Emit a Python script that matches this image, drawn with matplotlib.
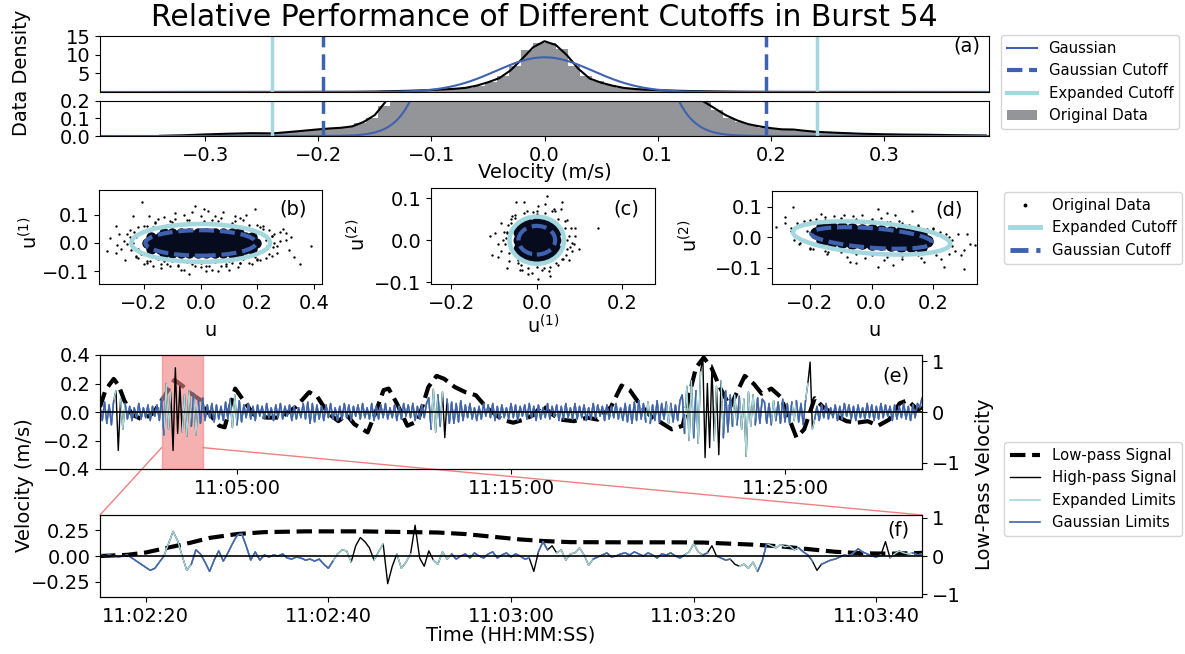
import numpy as np
import matplotlib
matplotlib.use("Agg")
import matplotlib.pyplot as plt
from matplotlib.patches import Ellipse, Patch, ConnectionPatch
from matplotlib.lines import Line2D
from matplotlib.ticker import FuncFormatter

plt.rcParams['font.family'] = ['DejaVu Sans']
plt.rcParams['mathtext.default'] = 'regular'

# ======================= DATA =======================
# ---- (a) velocity distribution ----
hist_bin_start = -0.336
hist_bin_width = 0.0105
hist_density = [0.003, 0.005, 0.01, 0.01, 0.012, 0.015, 0.015, 0.017, 0.012, 0.02,
                0.024, 0.028, 0.035, 0.04, 0.045, 0.05, 0.072, 0.105, 0.17, 0.24,
                0.31, 0.40, 0.52, 0.66, 0.85, 1.15, 1.7, 2.6, 4.4, 6.9,
                11.3, 13.0, 13.2, 11.6, 7.0, 4.2, 2.9, 1.8, 1.15, 0.85,
                0.62, 0.5, 0.4, 0.32, 0.24, 0.2, 0.15, 0.105, 0.08, 0.06,
                0.045, 0.04, 0.035, 0.03, 0.025, 0.02, 0.018, 0.014, 0.012, 0.01,
                0.009, 0.008, 0.008, 0.007, 0.006, 0.005, 0.004, 0.003, 0.003]
kde_u = [-0.34, -0.32, -0.30, -0.28, -0.26, -0.24, -0.22, -0.20, -0.19, -0.18, -0.17, -0.16,
         -0.15, -0.14, -0.13, -0.12, -0.11, -0.10, -0.09, -0.08, -0.07, -0.06, -0.05, -0.04,
         -0.03, -0.02, -0.01, 0.0, 0.01, 0.02, 0.03, 0.04, 0.05, 0.06, 0.07, 0.08, 0.09, 0.10,
         0.11, 0.12, 0.13, 0.14, 0.15, 0.16, 0.17, 0.18, 0.19, 0.20, 0.21, 0.22, 0.23, 0.24,
         0.26, 0.28, 0.30, 0.32, 0.34, 0.36, 0.39]
kde_density = [0.001, 0.004, 0.009, 0.013, 0.016, 0.015, 0.026, 0.038, 0.043, 0.047, 0.055, 0.08,
               0.12, 0.20, 0.26, 0.33, 0.42, 0.53, 0.68, 0.85, 1.1, 1.7, 2.6, 3.7,
               5.8, 8.8, 12.0, 13.6, 12.6, 9.8, 6.2, 3.6, 2.5, 1.7, 1.1, 0.8, 0.62, 0.5,
               0.4, 0.32, 0.25, 0.2, 0.16, 0.12, 0.09, 0.068, 0.055, 0.045, 0.038, 0.037, 0.03, 0.024,
               0.018, 0.013, 0.01, 0.008, 0.007, 0.005, 0.003]
gauss_mean = 0.0
gauss_sigma = 0.0429
gauss_cutoff = 0.196
expanded_cutoff = 0.241

# ---- (b) u vs u(1) ----
b_u = [-0.206, -0.32, -0.294, -0.30, -0.266, -0.24, -0.184, -0.09, 0.01, 0.026,
       0.19, 0.12, -0.14, -0.11, -0.04, 0.06, 0.11, 0.21, 0.28, 0.30,
       0.31, 0.35, 0.39, 0.25, 0.27, -0.07, -0.19, -0.22, -0.25, -0.27,
       -0.16, 0.07, 0.15, 0.22, 0.09, 0.02, -0.03, -0.13, 0.17, 0.23,
       -0.23, -0.22, -0.20, -0.21, -0.17, -0.15, -0.12, -0.10, -0.07, -0.05,
       -0.02, 0.0, 0.03, 0.05, 0.08, 0.10, 0.13, 0.15, 0.18, 0.19,
       0.21, 0.22, 0.23, 0.235, -0.24, -0.19, -0.11, -0.04, 0.04, 0.12,
       0.20, -0.18, -0.08, 0.0, 0.07, 0.14, 0.20, 0.26, 0.27, -0.26,
       -0.28, 0.24, -0.23, 0.30, -0.12, 0.05, -0.06, 0.10, -0.15, 0.16,
       0.33, -0.02, 0.08, -0.17, 0.13, 0.02, -0.09, 0.25, 0.29, -0.30,
       -0.25, -0.245, -0.235, -0.23, -0.20, -0.19, -0.16, -0.14, -0.10, -0.08,
       -0.05, -0.02, 0.01, 0.03, 0.06, 0.09, 0.11, 0.14, 0.17, 0.20,
       0.22, 0.24, 0.25, 0.255, 0.26, -0.26, -0.22, 0.21, -0.13, 0.14,
       -0.06, 0.04, 0.18, -0.20, 0.28, -0.29, 0.32, -0.33, 0.0, -0.03]
b_u1 = [0.144, 0.018, -0.006, -0.035, -0.059, 0.094, 0.094, 0.085, 0.121, 0.112,
        0.121, 0.094, -0.088, -0.082, -0.108, -0.10, -0.07, -0.059, 0.006, 0.035,
        -0.024, -0.076, -0.012, 0.024, -0.035, -0.094, -0.07, -0.053, 0.047, 0.006,
        0.073, 0.088, 0.08, 0.059, -0.082, -0.08, -0.076, -0.065, -0.07, -0.053,
        0.02, -0.02, 0.04, -0.04, 0.055, -0.058, 0.062, -0.063, 0.068, -0.066,
        0.07, -0.07, 0.069, -0.068, 0.066, -0.064, 0.06, -0.057, 0.05, -0.048,
        0.035, -0.03, 0.01, -0.01, 0.0, 0.06, 0.078, 0.082, 0.08, 0.076,
        0.062, -0.062, -0.08, -0.085, -0.082, -0.072, -0.06, 0.03, -0.01, 0.03,
        -0.02, 0.045, -0.045, 0.01, -0.075, 0.095, 0.10, -0.095, 0.085, 0.10,
        -0.05, 0.13, 0.11, -0.08, -0.085, -0.10, 0.105, -0.045, 0.05, 0.06,
        0.02, -0.025, 0.04, -0.05, 0.06, -0.065, 0.07, -0.075, 0.075, -0.078,
        0.08, -0.082, 0.078, -0.08, 0.077, -0.075, 0.072, -0.07, 0.064, -0.058,
        0.05, -0.04, 0.025, -0.015, 0.0, -0.005, 0.055, 0.055, 0.09, 0.088,
        -0.095, -0.095, -0.075, -0.075, 0.04, 0.03, 0.02, -0.03, 0.095, 0.11]
b_core_u = [-0.19, -0.16, -0.13, -0.10, -0.07, -0.04, -0.01, 0.02, 0.05, 0.08, 0.11, 0.14, 0.17, 0.195,
            -0.175, -0.145, -0.115, -0.085, -0.055, -0.025, 0.005, 0.035, 0.065, 0.095, 0.125, 0.155, 0.18,
            -0.175, -0.145, -0.115, -0.085, -0.055, -0.025, 0.005, 0.035, 0.065, 0.095, 0.125, 0.155, 0.18,
            -0.13, -0.10, -0.07, -0.04, -0.01, 0.02, 0.05, 0.08, 0.11, 0.135,
            -0.13, -0.10, -0.07, -0.04, -0.01, 0.02, 0.05, 0.08, 0.11, 0.135]
b_core_u1 = [0.0] * 14 + [0.02] * 13 + [-0.02] * 13 + [0.036] * 10 + [-0.036] * 10
b_expanded_axes = [0.245, 0.067]
b_gauss_axes = [0.195, 0.045]

# ---- (c) u(1) vs u(2) ----
c_u1 = [-0.048, 0.023, 0.003, 0.143, -0.104, -0.091, -0.071, 0.003, -0.011, 0.029,
        0.083, 0.09, -0.084, 0.056, -0.024, -0.057, 0.07, 0.076, -0.037, 0.016,
        -0.071, 0.083, 0.043, -0.044, -0.098,
        -0.07, 0.07, -0.075, 0.075, -0.068, 0.068, -0.06, 0.062, -0.05, 0.05,
        -0.03, 0.03, -0.01, 0.012, -0.08, 0.08, -0.065, 0.066, -0.04, 0.04,
        -0.085, 0.088, 0.0, -0.02, 0.02,
        0.07, -0.072, 0.065, -0.066, 0.05, -0.05, 0.045, -0.045, 0.02, -0.02,
        0.0, 0.0, 0.078, -0.078, 0.06, -0.06, 0.035, -0.035, 0.09, -0.09,
        0.03, -0.03, 0.10, -0.11, 0.06]
c_u2 = [0.09, 0.104, 0.081, 0.029, -0.034, -0.01, -0.066, -0.093, -0.077, -0.074,
        -0.006, 0.009, 0.041, 0.073, 0.069, 0.057, 0.049, -0.046, -0.058, -0.066,
        0.017, -0.026, 0.069, -0.046, 0.017,
        0.02, -0.02, -0.01, 0.01, 0.035, -0.035, 0.05, -0.045, 0.06, -0.058,
        0.065, -0.063, 0.068, -0.07, 0.0, 0.03, -0.05, 0.045, -0.07, 0.075,
        -0.025, -0.01, 0.07, -0.08, 0.085,
        0.0, 0.005, 0.03, -0.03, 0.05, 0.052, -0.055, -0.055, 0.065, -0.066,
        0.062, -0.064, -0.015, 0.02, -0.045, 0.04, 0.07, -0.07, 0.03, -0.04,
        -0.085, 0.09, -0.02, 0.01, 0.09]
c_core_u1 = [0.0, 0.02, -0.02, 0.04, -0.04, 0.0, 0.0, 0.0, 0.0, 0.02, -0.02, 0.02, -0.02,
             0.04, -0.04, 0.04, -0.04, 0.02, -0.02, 0.02, -0.02, 0.033, -0.033, 0.033, -0.033]
c_core_u2 = [0.0, 0.0, 0.0, 0.0, 0.0, 0.02, -0.02, 0.038, -0.038, 0.02, 0.02, -0.02, -0.02,
             0.02, 0.02, -0.02, -0.02, 0.036, 0.036, -0.036, -0.036, 0.03, 0.03, -0.03, -0.03]
c_expanded_axes = [0.064, 0.056]
c_gauss_axes = [0.043, 0.034]

# ---- (d) u vs u(2) ----
d_u = [-0.255, -0.31, -0.28, -0.162, 0.022, 0.077, -0.089, 0.133, 0.28, 0.30,
       0.234, 0.068, 0.022, -0.07, -0.144, -0.2, -0.236, 0.17, 0.225, 0.317,
       0.336, 0.30,
       -0.24, -0.22, -0.2, -0.18, -0.15, -0.12, -0.1, -0.06, -0.03, 0.0,
       0.03, 0.06, 0.09, 0.12, 0.15, 0.18, 0.2, 0.22, 0.24, 0.26,
       -0.23, -0.19, -0.14, -0.08, -0.02, 0.04, 0.1, 0.16, 0.21, 0.25,
       -0.26, -0.21, 0.27, 0.13, -0.05, 0.05,
       -0.26, -0.25, 0.26, 0.25, -0.2, -0.15, -0.1, -0.05, 0.0, 0.05,
       0.1, 0.15, 0.2, -0.2, -0.15, -0.1, -0.05, 0.0, 0.05, 0.1,
       0.15, 0.2, -0.28, 0.29, 0.31]
d_u2 = [0.099, 0.033, 0.066, 0.077, 0.093, 0.071, 0.071, 0.033, 0.011, -0.044,
        -0.099, -0.093, -0.099, -0.082, -0.055, -0.038, -0.022, -0.082, -0.071, -0.022,
        -0.027, -0.105,
        0.045, 0.052, 0.055, 0.06, 0.065, 0.07, 0.062, 0.068, 0.072, 0.058,
        0.064, 0.05, 0.052, 0.04, 0.035, 0.028, 0.03, 0.015, 0.01, -0.01,
        -0.02, -0.04, -0.05, -0.065, -0.07, -0.075, -0.072, -0.07, -0.06, -0.055,
        0.03, 0.02, -0.045, 0.085, -0.085, 0.08,
        0.02, -0.01, -0.03, 0.0, 0.05, 0.055, 0.06, 0.058, 0.055, 0.05,
        0.045, 0.04, 0.025, -0.035, -0.045, -0.05, -0.056, -0.06, -0.065, -0.063,
        -0.06, -0.05, 0.045, -0.06, 0.01]
d_core_u = [-0.18, -0.15, -0.12, -0.09, -0.06, -0.03, 0.0, 0.03, 0.06, 0.09, 0.12, 0.15, 0.18,
            -0.16, -0.128, -0.096, -0.064, -0.032, 0.0, 0.032, 0.064, 0.096, 0.128, 0.16,
            -0.16, -0.128, -0.096, -0.064, -0.032, 0.0, 0.032, 0.064, 0.096, 0.128, 0.16]
d_core_u2 = [0.013, 0.010, 0.008, 0.006, 0.004, 0.002, 0.0, -0.002, -0.004, -0.006, -0.008, -0.010, -0.013,
             0.033, 0.031, 0.029, 0.026, 0.024, 0.022, 0.020, 0.018, 0.015, 0.013, 0.011,
             -0.011, -0.013, -0.015, -0.018, -0.020, -0.022, -0.024, -0.026, -0.029, -0.031, -0.033]
d_expanded_axes = [0.255, 0.051]
d_gauss_axes = [0.196, 0.032]
d_ellipse_center = [0.0, -0.003]
d_ellipse_angle = -4.5

# ---- (e) whole burst: seconds after 11:00:00 ----
e_step_s = 5
e_hp_cm = [4, -6, 7, -8, 5, -9, 8, 15, -27, 9, -12, 6,
           -5, 4, -6, 3, -4, 6, -5, 3, -4, 5, -6, 4, -3, 5, -6,
           10, -16, 20, -12, 14, -27, 31, -15, 18, -14, 12, -17, 15, -10, 13, -16, 9, -8, 10,
           -6, 5, -4, 6, -7, 5, -5, 4, -6, 7, -5,
           9, -11, 12, -9, 8, -7,
           5, -4, 6, -5, 4, -6, 5, -3, 4, -5, 6, -4, 3, -6, 5, -4, 6, -5, 4, -3, 5, -6, 4, -5, 3, -4, 6, -5,
           7, -8, 6, -7, 5,
           -5, 4, -6, 5, -4, 6, -5, 3, -6, 4, -5, 6, -4, 5, -6, 4, -3, 5, -5, 6, -4, 3, -5, 6,
           -6, 4, -5, 5, -4, 6, -5, 3, -4, 5, -6, 4, -5, 6, -3, 5, -4, 6, -6, 4, -5, 5, -4, 6,
           10, -12, 16, -14, 12, -10, 14, -18, 9, -8,
           7, -8, 6, -7, 8, -6,
           5, -4, 6, -5, 3, -6, 4, -5, 6, -3, 5, -4, 6, -6, 4, -5, 5, -4, 3, -5, 6, -4, 5, -6,
           4, -3, 5, -5, 6, -4, 4, -6, 5, -5, 3, -4, 6, -5, 4, -3, 5, -6, 4, -5, 6, -4, 3, -5,
           6, -5, 4, -4, 5, -6, 3, -5, 6, -4, 5, -3, 4, -6, 5, -5, 4, -4, 6, -5, 3, -6,
           6, -7, 5, -8, 7, -6, 8, -5, 6, -7, 7, -8, 5, -6, 8, -7, 6, -5, 7, -8, 6, -7, 5, -6, 8,
           12, -15, 18, -20, 22, -18, 15, -22, 28, 39, -32, 20, -25, 33, -20, 18, -30, 22, -18, 15, -14, 12,
           -10, 12, -9, 11, -12, 9, -31, 14, -10, 12, -9, 10, -8, 9,
           7, -8, 6, -9, 8, -6, 7, -8, 9, -7, 6, -8, 7, -6, 8, -7, 6, -9, 8,
           20, 35, -12,
           -5, 4, -6, 5, -4, 6, -5, 3, -4, 5, -6, 4, -5, 6, -3, 5, -5, 4, -6, 5, -4, 3, -5, 6,
           -4, 5, -6, 4, -5, 6, -4, 5, -3, 4, -6, 5, -5, 4, -4, 6, -5, 4, -6, 5, -4, 6, 3, 10]
# 0 = inside Gaussian limits, 1 = inside expanded limits, 2 = outside
e_class = ("000000012110" + "0" * 15 + "0011022120101001000" + "0" * 11 + "011000"
           + "0" * 28 + "0" * 5 + "0" * 48 + "0011001200" + "0" * 6 + "0" * 70
           + "0000000000100000000100000" + "0011100112212201210000" + "01001011010000"
           + "0000100000000100000" + "121" + "0" * 48)
e_lp_t = [0, 12, 30, 41, 53, 70, 93, 117, 140, 163, 180, 198, 221, 238, 261, 273, 290, 296, 314, 337,
          366, 395, 429, 458, 476, 499, 522, 540, 557, 586, 603, 621, 632, 650, 673, 696, 719, 737, 754, 777,
          800, 823, 847, 881, 905, 928, 951, 968, 986, 1009, 1038, 1067, 1090, 1119, 1142, 1160, 1183, 1206,
          1229, 1252, 1276, 1293, 1305, 1322, 1339, 1357, 1380, 1397, 1412, 1432, 1449, 1470, 1490, 1507,
          1525, 1542, 1565, 1583, 1612, 1635, 1658, 1681, 1704, 1728, 1751, 1768, 1791, 1800]
e_lp_v = [0.1, 0.43, 0.65, 0.52, 0.23, -0.05, -0.15, -0.02, 0.3, 0.63, 0.52, 0.37, 0.23, -0.02, -0.27,
          -0.3, 0.27, 0.46, 0.23, -0.05, -0.11, -0.11, 0.1, 0.39, 0.3, -0.02, -0.18, -0.05, -0.24, -0.4,
          -0.02, 0.43, 0.46, 0.17, -0.27, -0.18, 0.49, 0.71, 0.65, 0.49, 0.39, 0.33, 0.08, -0.15, -0.21,
          -0.15, -0.05, 0.14, -0.02, -0.15, -0.18, -0.11, -0.15, 0.1, 0.52, 0.43, 0.14, -0.08, -0.21, -0.34,
          -0.27, 0.43, 0.87, 1.07, 0.87, 0.49, 0.1, 0.43, 0.71, 0.55, 0.36, 0.46, 0.3, -0.08, -0.5,
          -0.34, 0.27, 0.1, -0.08, -0.18, -0.21, -0.18, -0.27, -0.15, 0.17, 0.23, 0.04, 0.1]
zoom_start_s = 135
zoom_end_s = 225

# ---- (f) zoomed window, 0.5 s samples from 11:02:15 ----
f_step_s = 0.5
f_hp_cm = [1, 0, 1, 0, -1, 0, 1, -2, -5, -8, -11, -14, -12, -6, 0, 12, 24, 15, 0, -14,
           -8, 6, 2, -6, -15, -4, 5, -5, 3, 12, 20, 22, 10, -4, 4, -4, 1, -1, 1, 0,
           2, -2, -3, -1, -2, -4, -3, -5, -3, -8, -12, -5, 2, 6, 5, -6, 10, 18, 14, 8,
           -4, 4, 12, -27, -10, 2, -12, -6, 2, 30, -2, -10, 5, -4, -8, 4, -3, 2, -3, 0,
           2, -2, 3, 0, -2, 2, 4, -2, 1, 3, -1, 2, 0, -3, -2, -15, 4, 14, 6, 10,
           3, 6, -4, 2, 3, 8, 1, -9, -3, -1, 1, 3, -1, 0, 2, 3, 1, 4, 2, 0,
           3, 1, -2, 2, 1, 3, 0, -2, 1, 4, 12, 4, 1, 3, 10, 0, -2, -4, -3, -8,
           -10, -8, -12, -6, -15, -5, 12, 10, 8, 11, 9, 10, 6, 8, 4, 1, -5, -14, -8, -6,
           -4, -3, -1, 1, 0, 3, 7, 4, 2, 0, -1, 1, 14, -2, 2, 5, 3, 2, 3, 1,
           2]
f_class = ("00000000000000011111" "00000000000000000000" "00000000000011112222"
           "11122111122221111000" "00000000000000020002" "11111111000000000000"
           "00000000011100200002" "11110001111110000200" "00000000000021111100" "0")
f_lp_t = [0, 3, 5, 7.5, 10, 12, 15, 18, 22.5, 28.5, 34, 37, 40, 43, 46, 48.5, 51.5, 57.5, 63, 66,
          69, 72, 75, 77.5, 80.5, 83.5, 86.5, 90]
f_lp_v = [0.0, 0.03, 0.09, 0.22, 0.35, 0.47, 0.57, 0.62, 0.64, 0.64, 0.62, 0.61, 0.57, 0.50, 0.43,
          0.39, 0.36, 0.355, 0.355, 0.35, 0.32, 0.29, 0.24, 0.18, 0.11, 0.07, 0.06, 0.08]

# ======================= STYLE =======================
BLUE = '#3f62b0'
CYAN = '#a3d8de'
GRAY = '#939598'
NAVY = '#070b1e'
SPAN = '#f08080'
FS_TICK = 14
FS_LAB = 14
FS_LEG = 10.7

W, H = 1185, 654
fig = plt.figure(figsize=(W / 100, H / 100), dpi=100)


def add_ax(x0, y0, x1, y1):
    return fig.add_axes([x0 / W, 1 - y1 / H, (x1 - x0) / W, (y1 - y0) / H])


def ftxt(x, y, s, **kw):
    kw.setdefault('ha', 'center')
    kw.setdefault('va', 'center')
    kw.setdefault('fontsize', FS_LAB)
    fig.text(x / W, 1 - y / H, s, **kw)


def hms(x, pos=None):
    s = int(round(x))
    return "%02d:%02d:%02d" % (11 + s // 3600, (s % 3600) // 60, s % 60)


# ======================= (a) =======================
axA1 = add_ax(100, 36, 989, 92)
axA2 = add_ax(100, 101, 989, 136)
edges = hist_bin_start + hist_bin_width * np.arange(len(hist_density) + 1)
xg = np.linspace(-0.393, 0.393, 600)
gauss = np.exp(-0.5 * ((xg - gauss_mean) / gauss_sigma) ** 2) / (gauss_sigma * np.sqrt(2 * np.pi))
for ax in (axA1, axA2):
    ax.bar(edges[:-1], hist_density, width=hist_bin_width, align='edge', color=GRAY, lw=0)
    ax.plot(kde_u, kde_density, color='k', lw=1.5)
    ax.plot(xg, gauss, color=BLUE, lw=1.5)
    for s in (-1, 1):
        ax.axvline(s * gauss_cutoff, color=BLUE, lw=2.5, ls='--', dashes=(4.5, 2))
        ax.axvline(s * expanded_cutoff, color=CYAN, lw=2.5)
    ax.set_xlim(-0.393, 0.393)
    ax.tick_params(labelsize=FS_TICK)
axA1.set_ylim(0.0, 15)
axA1.set_yticks([5, 10, 15])
axA1.set_xticks([])
axA2.set_ylim(0, 0.2)
axA2.set_yticks([0.0, 0.1, 0.2])
axA2.set_xticks([-0.3, -0.2, -0.1, 0.0, 0.1, 0.2, 0.3])
axA1.text(0.99, 0.82, '(a)', transform=axA1.transAxes, ha='right', va='center', fontsize=FS_LAB)
ftxt(545, 172, 'Velocity (m/s)')
ftxt(22, 73, 'Data Density', rotation=90)
ftxt(544, 18, 'Relative Performance of Different Cutoffs in Burst 54', fontsize=21.5)

leg1 = [Line2D([], [], color=BLUE, lw=1.5), Line2D([], [], color=BLUE, lw=3, ls='--'),
        Line2D([], [], color=CYAN, lw=3), Patch(facecolor=GRAY)]
fig.legend(leg1, ['Gaussian', 'Gaussian Cutoff', 'Expanded Cutoff', 'Original Data'],
           loc='upper left', bbox_to_anchor=(1001 / W, 1 - 35 / H), borderaxespad=0,
           fontsize=FS_LEG)

# ======================= (b)(c)(d) =======================
axB = add_ax(99, 190, 322, 284)
axC = add_ax(431, 188, 655, 284)
axD = add_ax(772, 191, 977, 284)


def scatter_panel(ax, x, y, cx, cy, core_ms, exp_axes, gau_axes, center=(0, 0), angle=0):
    ax.plot(x, y, ls='none', marker='o', ms=1.7, mew=0, color='k')
    ax.plot(cx, cy, ls='none', marker='o', ms=core_ms, mew=0, color=NAVY)
    ax.add_patch(Ellipse(center, 2 * exp_axes[0], 2 * exp_axes[1], angle=angle,
                         fill=False, ec=CYAN, lw=3.2, zorder=4))
    ax.add_patch(Ellipse(center, 2 * gau_axes[0], 2 * gau_axes[1], angle=angle,
                         fill=False, ec=BLUE, lw=3.0, ls=(0, (3.6, 1.4)), zorder=5))
    ax.tick_params(labelsize=FS_TICK)


scatter_panel(axB, b_u, b_u1, b_core_u, b_core_u1, 7.5, b_expanded_axes, b_gauss_axes)
axB.set_xlim(-0.359, 0.428)
axB.set_ylim(-0.145, 0.187)
axB.set_xticks([-0.2, 0.0, 0.2, 0.4])
axB.set_yticks([-0.1, 0.0, 0.1])
axB.text(0.93, 0.8, '(b)', transform=axB.transAxes, ha='right', va='center', fontsize=FS_LAB)

scatter_panel(axC, c_u1, c_u2, c_core_u1, c_core_u2, 10.0, c_expanded_axes, c_gauss_axes)
axC.set_xlim(-0.248, 0.277)
axC.set_ylim(-0.104, 0.124)
axC.set_xticks([-0.2, 0.0, 0.2])
axC.set_yticks([-0.1, 0.0, 0.1])
axC.text(0.93, 0.78, '(c)', transform=axC.transAxes, ha='right', va='center', fontsize=FS_LAB)

scatter_panel(axD, d_u, d_u2, d_core_u, d_core_u2, 9.0, d_expanded_axes, d_gauss_axes,
              center=d_ellipse_center, angle=d_ellipse_angle)
axD.set_xlim(-0.322, 0.341)
axD.set_ylim(-0.154, 0.151)
axD.set_xticks([-0.2, 0.0, 0.2])
axD.set_yticks([-0.1, 0.0, 0.1])
axD.text(0.93, 0.8, '(d)', transform=axD.transAxes, ha='right', va='center', fontsize=FS_LAB)

ftxt(30, 233, 'u$^{(1)}$', rotation=90)
ftxt(358, 235, 'u$^{(2)}$', rotation=90)
ftxt(690, 236, 'u$^{(2)}$', rotation=90)
ftxt(211, 330, 'u')
ftxt(543, 326, 'u$^{(1)}$')
ftxt(875, 330, 'u')

leg2 = [Line2D([], [], ls='none', marker='o', ms=1.8, color='k'),
        Line2D([], [], color=CYAN, lw=3.5), Line2D([], [], color=BLUE, lw=3.5, ls='--')]
fig.legend(leg2, ['Original Data', 'Expanded Cutoff', 'Gaussian Cutoff'],
           loc='upper left', bbox_to_anchor=(1004 / W, 1 - 192 / H), borderaxespad=0,
           fontsize=FS_LEG)

# ======================= (e)(f) =======================
axE = add_ax(100, 355, 922, 469)
axF = add_ax(100, 515, 922, 597)


def hp_lines(ax, t, v, cls, lw):
    v = np.asarray(v, float)
    c = np.array([int(ch) for ch in cls])
    ax.plot(t, v, color='k', lw=lw, zorder=2)
    ax.plot(t, np.where(c <= 1, v, np.nan), color=CYAN, lw=lw, zorder=2.1)
    ax.plot(t, np.where(c == 0, v, np.nan), color=BLUE, lw=lw, zorder=2.2)


e_hp = np.array(e_hp_cm) / 100.0
e_t = np.arange(len(e_hp)) * e_step_s
f_hp = np.array(f_hp_cm) / 100.0
f_t = zoom_start_s + np.arange(len(f_hp)) * f_step_s

axE2 = axE.twinx()
axE2.plot(e_lp_t, e_lp_v, color='k', lw=3, ls='--')
axE2.set_ylim(-1.12, 1.12)
axE2.set_yticks([-1, 0, 1])
axE.set_zorder(axE2.get_zorder() + 1)
axE.patch.set_visible(False)
hp_lines(axE, e_t, e_hp, e_class, 1.0)
axE.axvspan(zoom_start_s, zoom_end_s, facecolor=SPAN, alpha=0.62, edgecolor=SPAN, lw=1, zorder=1)
axE.axhline(0, color='k', lw=1.2, zorder=3)
axE.set_xlim(0, 1800)
axE.set_ylim(-0.4, 0.4)
axE.set_yticks([-0.4, -0.2, 0.0, 0.2, 0.4])
axE.set_xticks([300, 900, 1500])
axE.xaxis.set_major_formatter(FuncFormatter(hms))
axE.text(0.985, 0.82, '(e)', transform=axE.transAxes, ha='right', va='center', fontsize=FS_LAB)

axF2 = axF.twinx()
axF2.plot(zoom_start_s + np.array(f_lp_t), f_lp_v, color='k', lw=3, ls='--')
axF2.set_ylim(-1.065, 1.065)
axF2.set_yticks([-1, 0, 1])
axF.set_zorder(axF2.get_zorder() + 1)
axF.patch.set_visible(False)
hp_lines(axF, f_t, f_hp, f_class, 1.0)
axF.axhline(0, color='k', lw=1.2, zorder=3)
axF.set_xlim(zoom_start_s, zoom_end_s)
axF.set_ylim(-0.4, 0.4)
axF.set_yticks([-0.25, 0.0, 0.25])
axF.set_xticks([140, 160, 180, 200, 220])
axF.xaxis.set_major_formatter(FuncFormatter(hms))
axF.text(0.985, 0.82, '(f)', transform=axF.transAxes, ha='right', va='center', fontsize=FS_LAB)

for ax in (axE, axE2, axF, axF2):
    ax.tick_params(labelsize=FS_TICK)

for xa, xb in ((zoom_start_s, 0), (zoom_end_s, 1)):
    con = ConnectionPatch(xyA=(xa, -0.25), coordsA=axE.transData, xyB=(xb, 1),
                          coordsB=axF.transAxes, color=SPAN, lw=1)
    fig.add_artist(con)

ftxt(24, 485, 'Velocity (m/s)', rotation=90)
ftxt(985, 484, 'Low-Pass Velocity', rotation=90)
ftxt(511, 635, 'Time (HH:MM:SS)')

leg3 = [Line2D([], [], color='k', lw=3, ls='--'), Line2D([], [], color='k', lw=1),
        Line2D([], [], color=CYAN, lw=1.2), Line2D([], [], color=BLUE, lw=1.2)]
fig.legend(leg3, ['Low-pass Signal', 'High-pass Signal', 'Expanded Limits', 'Gaussian Limits'],
           loc='upper left', bbox_to_anchor=(1004 / W, 1 - 442 / H), borderaxespad=0,
           fontsize=FS_LEG)

fig.savefig('out.png', dpi=100)
